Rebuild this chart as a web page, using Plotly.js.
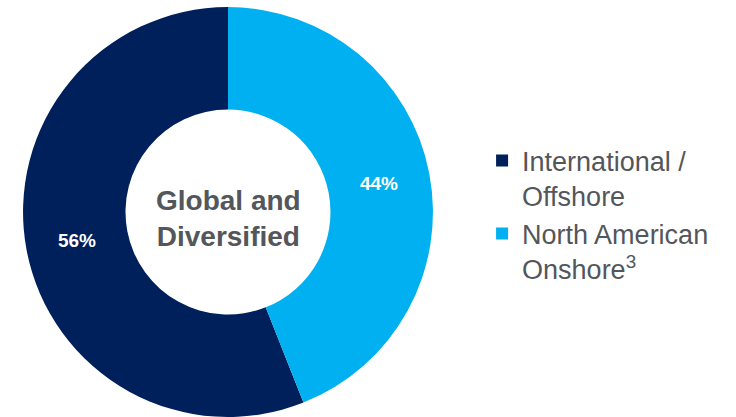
<!DOCTYPE html>
<html><head><meta charset="utf-8">
<script src="https://cdn.plot.ly/plotly-3.0.1.min.js"></script>
<style>html,body{margin:0;padding:0;background:#fff}#chart{width:736px;height:417px}</style>
</head><body><div id="chart"></div>
<script>
const categories = ["International /<br>Offshore", "North American<br>Onshore<sup>3</sup>"];
const values = [56, 44];
const colors = ["#00205B", "#00B0F0"];
const centerLabel = "Global and<br>Diversified";

const total = values.reduce((a, b) => a + b, 0);

const trace = {
  type: "pie",
  labels: categories,
  values: values,
  hole: 0.5,
  sort: false,
  direction: "counterclockwise",
  // first slice ends at 12 o'clock, running counterclockwise from there
  rotation: -360 * values[0] / total,
  marker: {colors: colors, line: {width: 0}},
  texttemplate: "%{value}%",
  textposition: "inside",
  insidetextorientation: "horizontal",
  textfont: {family: "Arial, 'Liberation Sans', sans-serif", size: 19, color: "#ffffff", weight: "bold"},
  hoverinfo: "none",
  domain: {x: [0.03125, 0.5883], y: [0, 0.983]}
};

const layout = {
  width: 736, height: 417,
  margin: {l: 0, r: 0, t: 0, b: 0},
  paper_bgcolor: "#ffffff",
  showlegend: true,
  legend: {
    x: 0.655, xanchor: "left", y: 0.673, yanchor: "top",
    valign: "top",
    font: {family: "Arial, 'Liberation Sans', sans-serif", size: 27, color: "#53565A"},
    itemwidth: 30, bgcolor: "rgba(0,0,0,0)"
  },
  annotations: [{
    text: "<b>" + centerLabel + "</b>",
    x: 228/736, y: 1 - 218/417, xref: "paper", yref: "paper",
    showarrow: false, xanchor: "center", yanchor: "middle",
    font: {family: "Arial, 'Liberation Sans', sans-serif", size: 28, color: "#53565A"}
  }]
};

Plotly.newPlot("chart", [trace], layout, {displayModeBar: false, staticPlot: true});
</script></body></html>
